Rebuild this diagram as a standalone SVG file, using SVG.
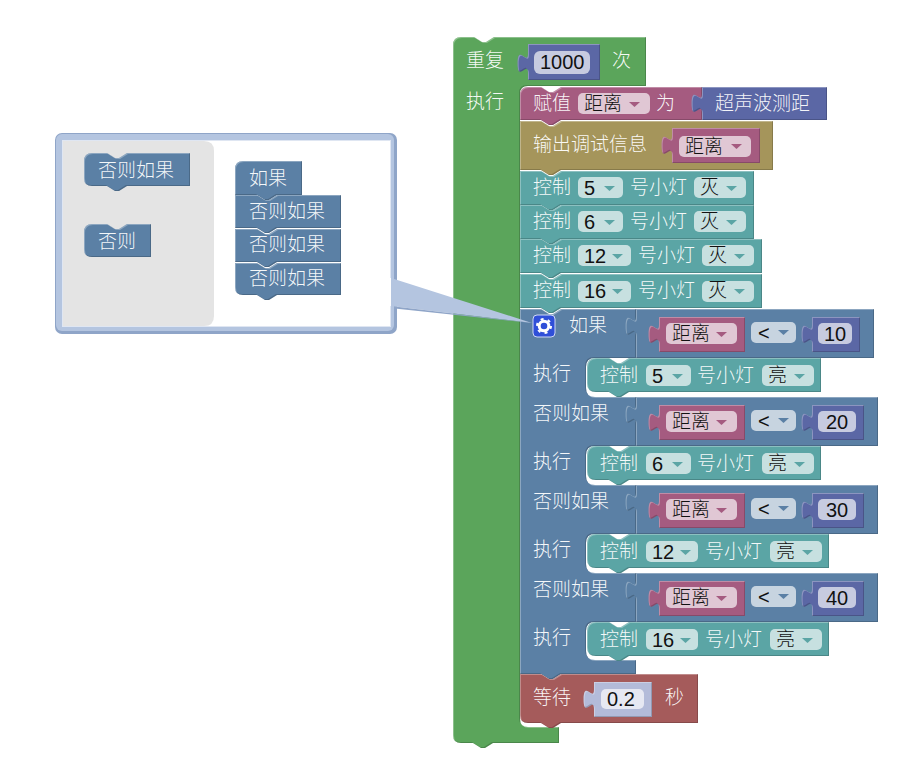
<svg xmlns="http://www.w3.org/2000/svg" width="924" height="774" viewBox="0 0 924 774">
<style>
text{font-family:"Noto Sans CJK SC","Liberation Sans",sans-serif;font-size:19px;font-weight:300;fill:#fff;fill-opacity:.94}
text.f{fill:#111;fill-opacity:1}
text.n{font-family:"Liberation Sans","Noto Sans CJK SC",sans-serif;font-size:20px;fill:#111;fill-opacity:1}
.b{filter:url(#bevel)}
.green{fill:#5ba55b;color:#5ba55b}
.mag{fill:#a55b80;color:#a55b80}
.tan{fill:#a5955b;color:#a5955b}
.teal{fill:#5ba5a5;color:#5ba5a5}
.blue{fill:#5b80a5;color:#5b80a5}
.ind{fill:#5b67a5;color:#5b67a5}
.red{fill:#a55b5b;color:#a55b5b}
.shadow{fill:#b3bbd9}
rect.fld{fill:#fff;fill-opacity:.66;stroke:none}
</style>
<defs>
<filter id="bevel" x="-5%" y="-5%" width="110%" height="110%" color-interpolation-filters="sRGB">
<feOffset in="SourceAlpha" dx="1" dy="1" result="o1"/>
<feComposite in="SourceAlpha" in2="o1" operator="out" result="tl"/>
<feFlood flood-color="#fff" flood-opacity=".3"/>
<feComposite in2="tl" operator="in" result="light"/>
<feOffset in="SourceAlpha" dx="-1" dy="-1" result="o2"/>
<feComposite in="SourceAlpha" in2="o2" operator="out" result="br"/>
<feFlood flood-color="#000" flood-opacity=".18"/>
<feComposite in2="br" operator="in" result="dark"/>
<feMerge><feMergeNode in="SourceGraphic"/><feMergeNode in="light"/><feMergeNode in="dark"/></feMerge>
</filter>
<path id="ar" d="M0,0H11L5.5,5Z"/>
<g id="dist"><path class="b mag" d="M659,0H745V35H659V27c0,-13 -10.4,10.4 -10.4,-9.75s10.4,3.25 10.4,-9.75Z"/><rect class="fld" x="666" y="6" width="71" height="21" rx="5"/><text class="f" x="672" y="23">距离</text><use href="#ar" x="716" y="15" class="mag"/></g>
<g id="lt"><rect class="fld" x="751" y="5" width="45" height="21" rx="5"/><text class="n" x="758" y="23">&lt;</text><use href="#ar" x="778" y="13" class="blue"/></g>
</defs>

<g id="repeat">
<path class="b green" d="M453,45Q453,37 461,37H474l8,5h4l8,-5H646V86H528Q520,86 520,94V719Q520,727 528,727H559V743H493l-8,5h-4l-8,-5H461Q453,743 453,735Z"/>
<text x="466" y="67">重复</text><text x="466" y="108">执行</text><text x="612" y="67">次</text>
<path class="b ind" d="M528,44H600V80H528V73c0,-13 -10.4,10.4 -10.4,-9.75s10.4,3.25 10.4,-9.75Z"/>
<rect class="fld" x="534" y="51" width="56" height="23" rx="6"/><text class="n" x="540" y="69">1000</text>
</g>

<g id="assign">
<path class="b mag" d="M520,95Q520,87 528,87H541l8,5h4l8,-5H702V120H561l-8,5h-4l-8,-5H520Z"/>
<text x="533" y="110">赋值</text><rect class="fld" x="578" y="93" width="72" height="21" rx="5"/><text class="f" x="584" y="110">距离</text><use href="#ar" x="629" y="102" class="mag"/><text x="656" y="110">为</text>
<path class="b ind" d="M702,87H827V120H702V113c0,-13 -10.4,10.4 -10.4,-9.75s10.4,3.25 10.4,-9.75Z"/>
<text x="715" y="110">超声波测距</text>
</g>

<g id="debug">
<path class="b tan" d="M520,121H541l8,5h4l8,-5H773V170H561l-8,5h-4l-8,-5H520Z"/>
<text x="533" y="151">输出调试信息</text>
<path class="b mag" d="M672,128H760V163H672V155c0,-13 -10.4,10.4 -10.4,-9.75s10.4,3.25 10.4,-9.75Z"/>
<rect class="fld" x="679" y="136" width="72" height="21" rx="5"/><text class="f" x="685" y="153">距离</text><use href="#ar" x="731" y="144" class="mag"/>
</g>

<g id="ctl5">
<path class="b teal" d="M520,171H541l8,5h4l8,-5H754V205H561l-8,5h-4l-8,-5H520Z"/>
<text x="533" y="194">控制</text><rect class="fld" x="578" y="177" width="45" height="21" rx="5"/><text class="n" x="584" y="195">5</text><use href="#ar" x="604" y="186" class="teal"/><text x="630" y="194">号小灯</text><rect class="fld" x="694" y="177" width="52" height="21" rx="5"/><text class="f" x="700" y="194">灭</text><use href="#ar" x="726" y="186" class="teal"/>
</g>
<g id="ctl6">
<path class="b teal" d="M520,205H541l8,5h4l8,-5H754V239H561l-8,5h-4l-8,-5H520Z"/>
<text x="533" y="228">控制</text><rect class="fld" x="578" y="211" width="45" height="21" rx="5"/><text class="n" x="584" y="229">6</text><use href="#ar" x="604" y="220" class="teal"/><text x="630" y="228">号小灯</text><rect class="fld" x="694" y="211" width="52" height="21" rx="5"/><text class="f" x="700" y="228">灭</text><use href="#ar" x="726" y="220" class="teal"/>
</g>
<g id="ctl12">
<path class="b teal" d="M520,239H541l8,5h4l8,-5H762V273H561l-8,5h-4l-8,-5H520Z"/>
<text x="533" y="262">控制</text><rect class="fld" x="578" y="245" width="53" height="21" rx="5"/><text class="n" x="584" y="263">12</text><use href="#ar" x="612" y="254" class="teal"/><text x="638" y="262">号小灯</text><rect class="fld" x="702" y="245" width="52" height="21" rx="5"/><text class="f" x="708" y="262">灭</text><use href="#ar" x="734" y="254" class="teal"/>
</g>
<g id="ctl16">
<path class="b teal" d="M520,274H541l8,5h4l8,-5H762V308H561l-8,5h-4l-8,-5H520Z"/>
<text x="533" y="297">控制</text><rect class="fld" x="578" y="281" width="53" height="21" rx="5"/><text class="n" x="584" y="298">16</text><use href="#ar" x="612" y="289" class="teal"/><text x="638" y="297">号小灯</text><rect class="fld" x="702" y="281" width="52" height="21" rx="5"/><text class="f" x="708" y="297">灭</text><use href="#ar" x="734" y="289" class="teal"/>
</g>

<g id="ifelse">
<path class="b blue" d="M520,309H541l8,5h4l8,-5H636V358H595Q586,358 586,367V388Q586,397 595,397H636V446H595Q586,446 586,455V476Q586,485 595,485H636V534H595Q586,534 586,543V564Q586,573 595,573H636V622H595Q586,622 586,631V651Q586,660 595,660H636V674H561l-8,5h-4l-8,-5H520Z"/>
<rect x="533" y="315" width="22" height="22" rx="4" fill="#2f4fd8" stroke="#cfd8f5" stroke-width="1"/>
<circle cx="544" cy="326" r="4.8" fill="none" stroke="#fff" stroke-width="3"/><circle cx="544" cy="326" r="7" fill="none" stroke="#fff" stroke-width="2" stroke-dasharray="3 4.33"/>
<text x="569" y="332">如果</text><text x="533" y="380">执行</text><text x="533" y="420">否则如果</text><text x="533" y="468">执行</text><text x="533" y="508">否则如果</text><text x="533" y="556">执行</text><text x="533" y="596">否则如果</text><text x="533" y="644">执行</text>
</g>

<g id="cmp10">
<path class="b blue" d="M636,309H874V358H636V336c0,-13 -10.4,10.4 -10.4,-9.75s10.4,3.25 10.4,-9.75Z"/>
<use href="#dist" y="317"/><use href="#lt" y="317"/>
<path class="b ind" d="M812,317H860V352H812V344c0,-13 -10.4,10.4 -10.4,-9.75s10.4,3.25 10.4,-9.75Z"/>
<rect class="fld" x="818" y="323" width="34" height="21" rx="5"/><text class="n" x="824" y="341">10</text>
</g>
<g id="cmp20">
<path class="b blue" d="M636,397H878V446H636V424c0,-13 -10.4,10.4 -10.4,-9.75s10.4,3.25 10.4,-9.75Z"/>
<use href="#dist" y="405"/><use href="#lt" y="405"/>
<path class="b ind" d="M812,405H864V440H812V432c0,-13 -10.4,10.4 -10.4,-9.75s10.4,3.25 10.4,-9.75Z"/>
<rect class="fld" x="818" y="411" width="38" height="21" rx="5"/><text class="n" x="826" y="429">20</text>
</g>
<g id="cmp30">
<path class="b blue" d="M636,485H878V534H636V512c0,-13 -10.4,10.4 -10.4,-9.75s10.4,3.25 10.4,-9.75Z"/>
<use href="#dist" y="493"/><use href="#lt" y="493"/>
<path class="b ind" d="M812,493H864V528H812V520c0,-13 -10.4,10.4 -10.4,-9.75s10.4,3.25 10.4,-9.75Z"/>
<rect class="fld" x="818" y="499" width="38" height="21" rx="5"/><text class="n" x="826" y="517">30</text>
</g>
<g id="cmp40">
<path class="b blue" d="M636,573H878V622H636V600c0,-13 -10.4,10.4 -10.4,-9.75s10.4,3.25 10.4,-9.75Z"/>
<use href="#dist" y="581"/><use href="#lt" y="581"/>
<path class="b ind" d="M812,581H864V616H812V608c0,-13 -10.4,10.4 -10.4,-9.75s10.4,3.25 10.4,-9.75Z"/>
<rect class="fld" x="818" y="587" width="38" height="21" rx="5"/><text class="n" x="826" y="605">40</text>
</g>

<g id="in5">
<path class="b teal" d="M587,367Q587,358 596,358H609l8,5h4l8,-5H821V392H629l-8,5h-4l-8,-5H596Q587,392 587,383Z"/>
<text x="600" y="382">控制</text><rect class="fld" x="646" y="365" width="45" height="21" rx="5"/><text class="n" x="652" y="383">5</text><use href="#ar" x="672" y="374" class="teal"/><text x="697" y="382">号小灯</text><rect class="fld" x="762" y="365" width="52" height="21" rx="5"/><text class="f" x="768" y="382">亮</text><use href="#ar" x="794" y="374" class="teal"/>
</g>
<g id="in6">
<path class="b teal" d="M587,455Q587,446 596,446H609l8,5h4l8,-5H821V480H629l-8,5h-4l-8,-5H596Q587,480 587,471Z"/>
<text x="600" y="470">控制</text><rect class="fld" x="646" y="453" width="45" height="21" rx="5"/><text class="n" x="652" y="471">6</text><use href="#ar" x="672" y="462" class="teal"/><text x="697" y="470">号小灯</text><rect class="fld" x="762" y="453" width="52" height="21" rx="5"/><text class="f" x="768" y="470">亮</text><use href="#ar" x="794" y="462" class="teal"/>
</g>
<g id="in12">
<path class="b teal" d="M587,543Q587,534 596,534H609l8,5h4l8,-5H829V568H629l-8,5h-4l-8,-5H596Q587,568 587,559Z"/>
<text x="600" y="558">控制</text><rect class="fld" x="646" y="541" width="52" height="21" rx="5"/><text class="n" x="652" y="559">12</text><use href="#ar" x="680" y="550" class="teal"/><text x="705" y="558">号小灯</text><rect class="fld" x="770" y="541" width="52" height="21" rx="5"/><text class="f" x="776" y="558">亮</text><use href="#ar" x="802" y="550" class="teal"/>
</g>
<g id="in16">
<path class="b teal" d="M587,631Q587,622 596,622H609l8,5h4l8,-5H829V656H629l-8,5h-4l-8,-5H596Q587,656 587,647Z"/>
<text x="600" y="646">控制</text><rect class="fld" x="646" y="629" width="52" height="21" rx="5"/><text class="n" x="652" y="647">16</text><use href="#ar" x="680" y="638" class="teal"/><text x="705" y="646">号小灯</text><rect class="fld" x="770" y="629" width="52" height="21" rx="5"/><text class="f" x="776" y="646">亮</text><use href="#ar" x="802" y="638" class="teal"/>
</g>

<g id="wait">
<path class="b red" d="M520,674H541l8,5h4l8,-5H698V723H561l-8,5h-4l-8,-5H528Q520,723 520,715Z"/>
<text x="533" y="704">等待</text><text x="665" y="704">秒</text>
<path class="b shadow" d="M594,682H652V717H594V709c0,-13 -10.4,10.4 -10.4,-9.75s10.4,3.25 10.4,-9.75Z"/>
<rect x="601" y="689" width="43" height="20" rx="5" fill="#e6e8f2"/><text class="n" x="607" y="706">0.2</text>
</g>

<g id="bubble">
<rect x="55" y="133" width="342" height="201" rx="7" fill="#8fa5c8"/>
<rect x="56" y="134" width="338" height="197" rx="6" fill="#b4c5e0"/>
<rect x="62" y="140" width="329" height="187" fill="#dfe6f2"/>
<rect x="63" y="141" width="327" height="185" fill="#fff"/>
<path d="M63,141H204Q214,141 214,151V316Q214,326 204,326H63Z" fill="#e4e4e4"/>
</g>
<g id="connectors">
<path d="M391,278L532,323L391,306Z" fill="#b4c5e0"/>
<path d="M397,306.800L532,323L397,308.800Z" fill="#8fa5c8"/>
<path d="M390,278H391V306H390Z" fill="#fff"/>
</g>

<g id="fly-elseif">
<path class="b blue" d="M84,161Q84,153 92,153H107l8,5h4l8,-5H190V186H127l-8,5h-4l-8,-5H92Q84,186 84,178Z"/>
<text x="98" y="177">否则如果</text>
</g>
<g id="fly-else">
<path class="b blue" d="M84,232Q84,224 92,224H107l8,5h4l8,-5H151V257H92Q84,257 84,249Z"/>
<text x="98" y="248">否则</text>
</g>
<g id="mut-if">
<path class="b blue" d="M235,169Q235,161 243,161H302V195H277l-8,5h-4l-8,-5H235Z"/>
<text x="249" y="185">如果</text>
</g>
<g id="mut-elseif1">
<path class="b blue" d="M235,195H257l8,5h4l8,-5H341V228H277l-8,5h-4l-8,-5H235Z"/>
<text x="249" y="218">否则如果</text>
</g>
<g id="mut-elseif2">
<path class="b blue" d="M235,229H257l8,5h4l8,-5H341V262H277l-8,5h-4l-8,-5H235Z"/>
<text x="249" y="251">否则如果</text>
</g>
<g id="mut-elseif3">
<path class="b blue" d="M235,263H257l8,5h4l8,-5H341V295H277l-8,5h-4l-8,-5H243Q235,295 235,287Z"/>
<text x="249" y="285">否则如果</text>
</g>
</svg>
